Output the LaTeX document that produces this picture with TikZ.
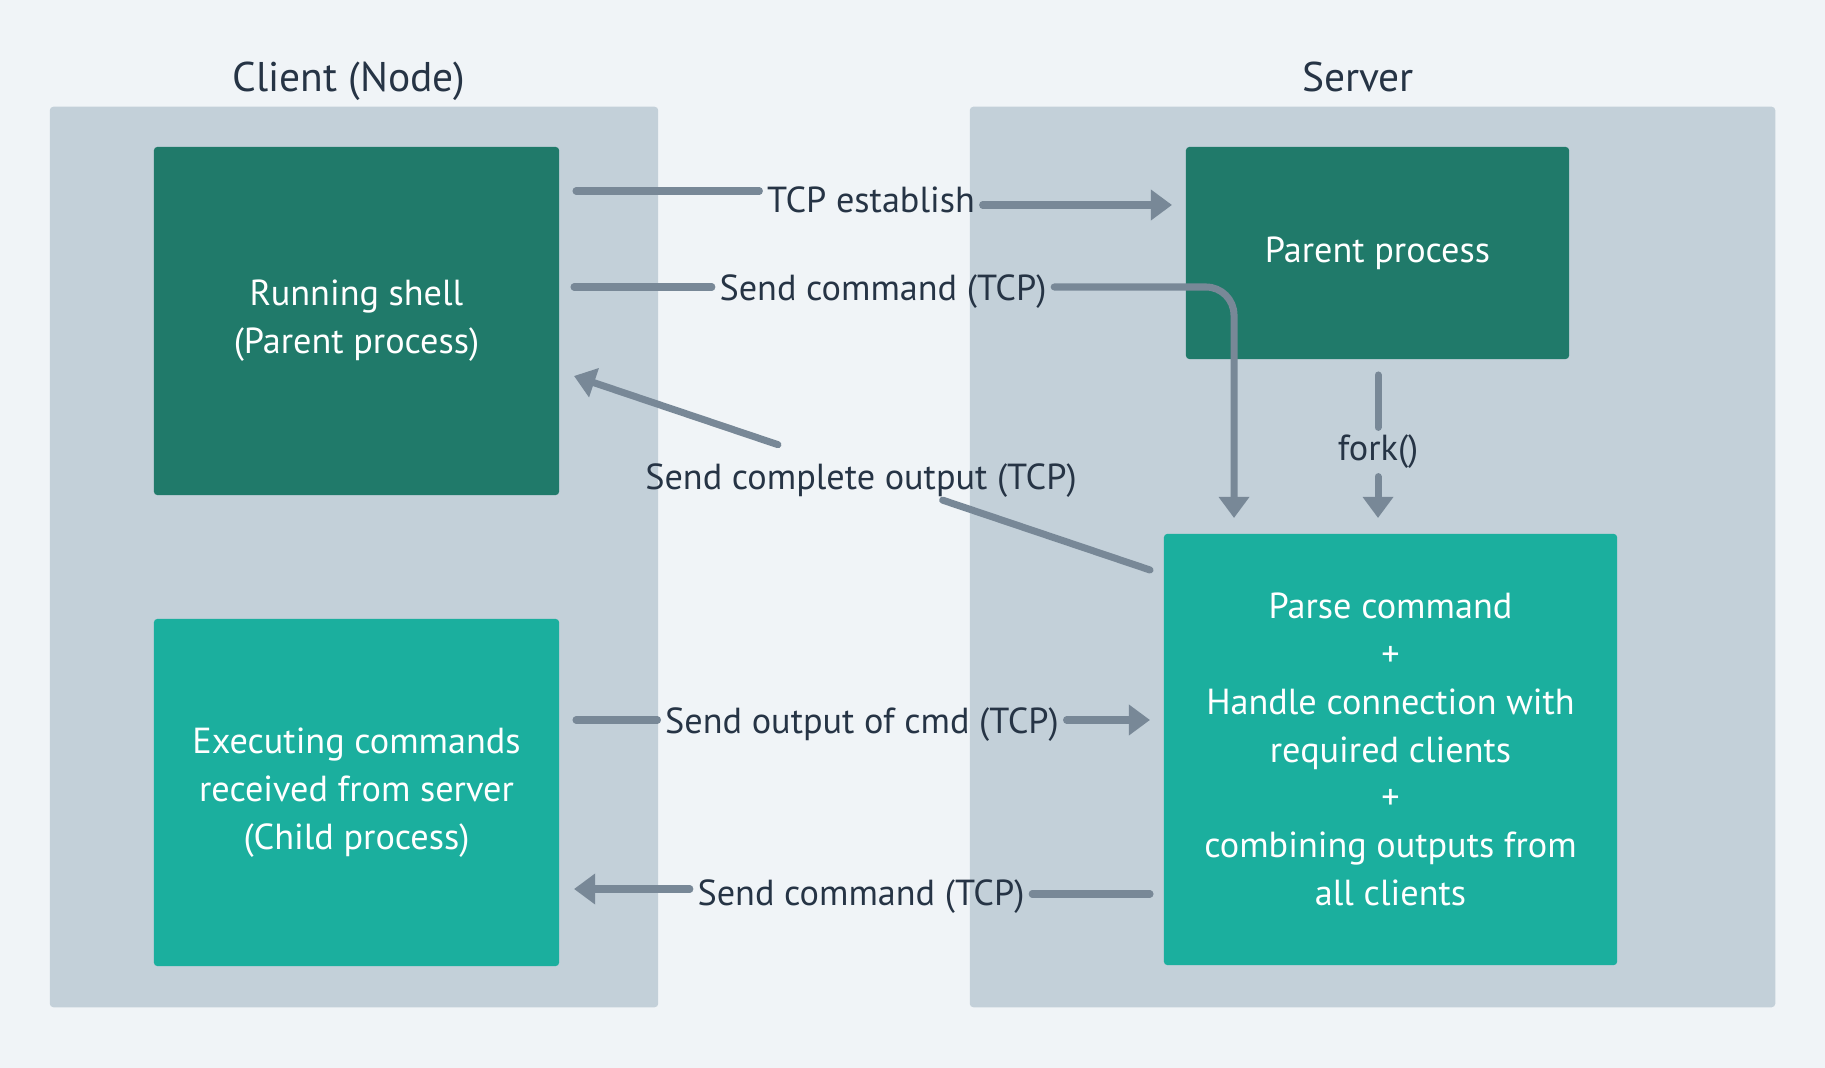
\documentclass[tikz,border=0pt]{standalone}
\usepackage{fontspec}
\setmainfont{PT Sans}
\usetikzlibrary{arrows.meta,calc}

\definecolor{bgc}{HTML}{F0F4F7}
\definecolor{panelc}{HTML}{C3D0D9}
\definecolor{darkbox}{HTML}{207A6A}
\definecolor{lightbox}{HTML}{1BAF9E}
\definecolor{linkc}{HTML}{788897}
\definecolor{txtc}{HTML}{263445}

\tikzset{
  panel/.style={fill=panelc,rounded corners=1pt,inner sep=0pt},
  procbox/.style={rounded corners=1pt,inner sep=0pt,text=white,align=center,
    font=\fontsize{10.3}{13.6}\selectfont},
  link/.style={draw=linkc,line width=2pt,line cap=round},
  tip/.style={-{Triangle[length=6pt,width=8.4pt]}},
  lbl/.style={text=txtc,inner sep=2pt,font=\fontsize{10.3}{13.6}\selectfont},
  title/.style={text=txtc,anchor=base,font=\fontsize{11.8}{14}\selectfont}
}

\begin{document}
\begin{tikzpicture}[x=0.01cm,y=-0.01cm]
\fill[bgc] (0,0) rectangle (1825,1068);
\useasboundingbox (0,0) rectangle (1825,1068);

% the two sides
\node[panel,minimum width=6.08cm,minimum height=9cm] (client) at (354,557) {};
\node[panel,minimum width=8.05cm,minimum height=9cm] (server) at (1372.5,557) {};
\node[title] (clienttitle) at (349,92) {Client (Node)};
\node[title] (servertitle) at (1358,92) {Server};

% processes
\node[procbox,fill=darkbox,minimum width=4.05cm,minimum height=3.48cm] (shell) at (356.5,321)
  {Running shell\\(Parent process)};
\node[procbox,fill=lightbox,minimum width=4.05cm,minimum height=3.47cm] (exec) at (356.5,792.5)
  {Executing commands\\received from server\\(Child process)};
\node[procbox,fill=darkbox,minimum width=3.83cm,minimum height=2.12cm] (parent) at (1377.5,253)
  {Parent process};
\node[procbox,fill=lightbox,minimum width=4.53cm,minimum height=4.31cm] (parse) at (1390.5,749.5)
  {Parse command\\+\\Handle connection with\\required clients\\+\\combining outputs from\\all clients};

% labels
\node[lbl] (establish) at (871,200) {TCP establish};
\node[lbl] (cmdtop) at (883,292) {Send command (TCP)};
\node[lbl] (outall) at (861,481) {Send complete output (TCP)};
\node[lbl] (forklbl) at (1378,452) {fork()};
\node[lbl] (outcmd) at (862,725) {Send output of cmd (TCP)};
\node[lbl] (cmdbot) at (861,897) {Send command (TCP)};

% free ends
\coordinate (a1) at (576,191);
\coordinate (a2) at (1172,205);
\coordinate (b1) at (574,287);
\coordinate (b2) at (1234,518);
\coordinate (c1) at (1150,570);
\coordinate (c2) at (574,376);
\coordinate (d1) at (1378,375);
\coordinate (d2) at (1378,518);
\coordinate (e1) at (576,720);
\coordinate (e2) at (1150,720);
\coordinate (f1) at (1150,894);
\coordinate (f2) at (574,889);

% connectors
\draw[link] (a1) -- (a1 -| establish.west);
\draw[link,tip] (establish.east |- a2) -- (a2);
\draw[link] (b1) -- (b1 -| cmdtop.west);
\draw[link,tip,rounded corners=8pt] (b1 -| cmdtop.east) -- (b2 |- b1) -- (b2);
\draw[link] (c1) -- ($(c1)!0.36!(c2)$);
\draw[link,tip] ($(c1)!0.646!(c2)$) -- (c2);
\draw[link] (d1) -- (d1 |- forklbl.north);
\draw[link,tip] (forklbl.south) -- (d2);
\draw[link] (e1) -- (e1 -| outcmd.west);
\draw[link,tip] (e1 -| outcmd.east) -- (e2);
\draw[link] (f1) -- (f1 -| cmdbot.east);
\draw[link,tip] (f2 -| cmdbot.west) -- (f2);
\end{tikzpicture}
\end{document}
